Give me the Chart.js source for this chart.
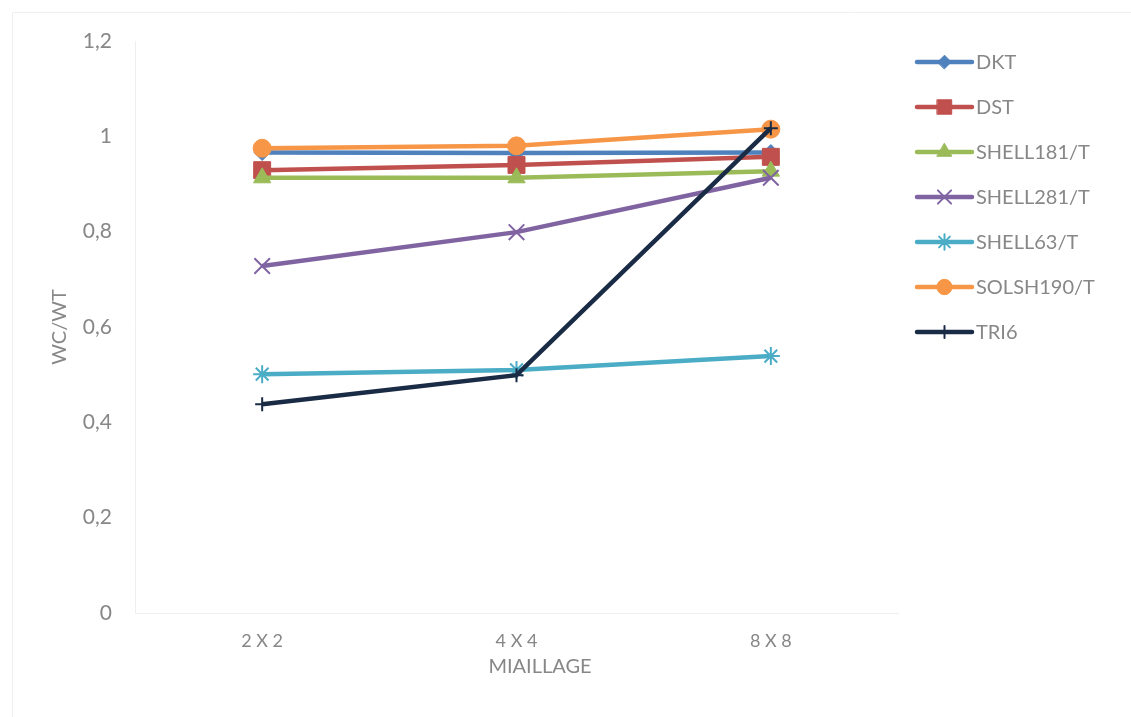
<!DOCTYPE html>
<html><head><meta charset="utf-8">
<script src="https://cdn.jsdelivr.net/npm/chart.js@4.4.1/dist/chart.umd.min.js"></script>
<style>html,body{margin:0;padding:0;background:#fff}#wrap{width:1131px;height:717px;position:relative}canvas{display:block}</style>
</head><body><div id="wrap"><canvas id="c" width="1131" height="717"></canvas></div>
<script>
const categories = ['2 X 2', '4 X 4', '8 X 8'];
const seriesNames = ['DKT', 'DST', 'SHELL181/T', 'SHELL281/T', 'SHELL63/T', 'SOLSH190/T', 'TRI6'];
const dkt = [0.966, 0.965, 0.966];
const dst = [0.929, 0.940, 0.957];
const shell181 = [0.913, 0.913, 0.927];
const shell281 = [0.728, 0.799, 0.913];
const shell63 = [0.501, 0.510, 0.539];
const solsh190 = [0.975, 0.980, 1.015];
const tri6 = [0.438, 0.499, 1.017];
const yTickLabels = ['0', '0,2', '0,4', '0,6', '0,8', '1', '1,2'];
const xTitle = 'MIAILLAGE';
const yTitle = 'WC/WT';

const seriesValues = [dkt, dst, shell181, shell281, shell63, solsh190, tri6];
const colors = ['#4F81BD', '#C0504D', '#9BBB59', '#8064A2', '#4BACC6', '#F79646', '#1A2B45'];
const pStyles = ['rectRot', 'rect', 'triangle', 'crossRot', 'star', 'circle', 'cross'];
const pRadius = [8, 12, 10, 11, 9, 9, 7];
const pBorder = [1, 1, 1, 2, 2, 1, 2];
const textColor = '#878787';
const FONT = 'Lato, "Open Sans", sans-serif';

const datasets = seriesNames.map((n, i) => ({
  label: n,
  data: seriesValues[i],
  borderColor: colors[i],
  backgroundColor: colors[i],
  borderWidth: 4.5,
  pointStyle: pStyles[i],
  pointRadius: pRadius[i],
  pointBorderWidth: pBorder[i],
  pointBackgroundColor: colors[i],
  pointBorderColor: colors[i],
  tension: 0,
  order: seriesNames.length - i
}));

function drawMarker(ctx, style, r, bw, color, x, y) {
  if (Chart.helpers && Chart.helpers.drawPoint) {
    ctx.save();
    ctx.fillStyle = color; ctx.strokeStyle = color; ctx.lineWidth = bw;
    Chart.helpers.drawPoint(ctx, {pointStyle: style, radius: r, rotation: 0, borderWidth: bw}, x, y);
    ctx.restore();
  }
}

const decor = {
  id: 'decor',
  beforeDraw(chart) {
    const ctx = chart.ctx;
    ctx.save();
    ctx.strokeStyle = '#efefef';
    ctx.lineWidth = 1;
    ctx.beginPath();
    ctx.moveTo(12.5, 717); ctx.lineTo(12.5, 12.5); ctx.lineTo(1131, 12.5);
    ctx.stroke();
    ctx.restore();
  },
  afterDraw(chart) {
    const ctx = chart.ctx;
    ctx.save();
    ctx.fillStyle = textColor;
    ctx.font = '20px ' + FONT;
    ctx.textAlign = 'center';
    ctx.textBaseline = 'middle';
    ctx.fillText(xTitle, 540, 667);
    const x0 = 917, x1 = 972, y0 = 62, step = 45;
    seriesNames.forEach((n, i) => {
      const y = y0 + i * step;
      ctx.strokeStyle = colors[i];
      ctx.lineWidth = 4.5;
      ctx.lineCap = 'round';
      ctx.beginPath(); ctx.moveTo(x0, y); ctx.lineTo(x1, y); ctx.stroke();
      drawMarker(ctx, pStyles[i], pRadius[i] * 0.85, pBorder[i], colors[i], (x0 + x1) / 2, y);
      ctx.fillStyle = textColor;
      ctx.font = '20px ' + FONT;
      ctx.textAlign = 'left';
      ctx.textBaseline = 'middle';
      ctx.fillText(n, 976, y + 1);
    });
    ctx.restore();
  }
};

new Chart(document.getElementById('c'), {
  type: 'line',
  data: {labels: categories, datasets},
  plugins: [decor],
  options: {
    responsive: false,
    animation: false,
    devicePixelRatio: 1,
    layout: {padding: {top: 41, right: 233, bottom: 0, left: 0}},
    plugins: {legend: {display: false}, tooltip: {enabled: false}},
    scales: {
      x: {
        offset: true,
        grid: {display: false, drawTicks: false},
        border: {display: true, color: '#efefef', width: 1},
        ticks: {color: textColor, font: {family: FONT, size: 18}, padding: 17, maxRotation: 0},
        afterFit(s) { s.height = 104; }
      },
      y: {
        min: 0, max: 1.2,
        grid: {display: false, drawTicks: false},
        border: {display: true, color: '#efefef', width: 1},
        ticks: {stepSize: 0.2, color: textColor, font: {family: FONT, size: 21}, padding: 23,
          callback: (v, i) => yTickLabels[i]},
        title: {display: true, text: yTitle, color: textColor, font: {family: FONT, size: 20}, padding: {top: 48, bottom: 0}},
        afterFit(s) { s.width = 135; }
      }
    }
  }
});
</script></body></html>
